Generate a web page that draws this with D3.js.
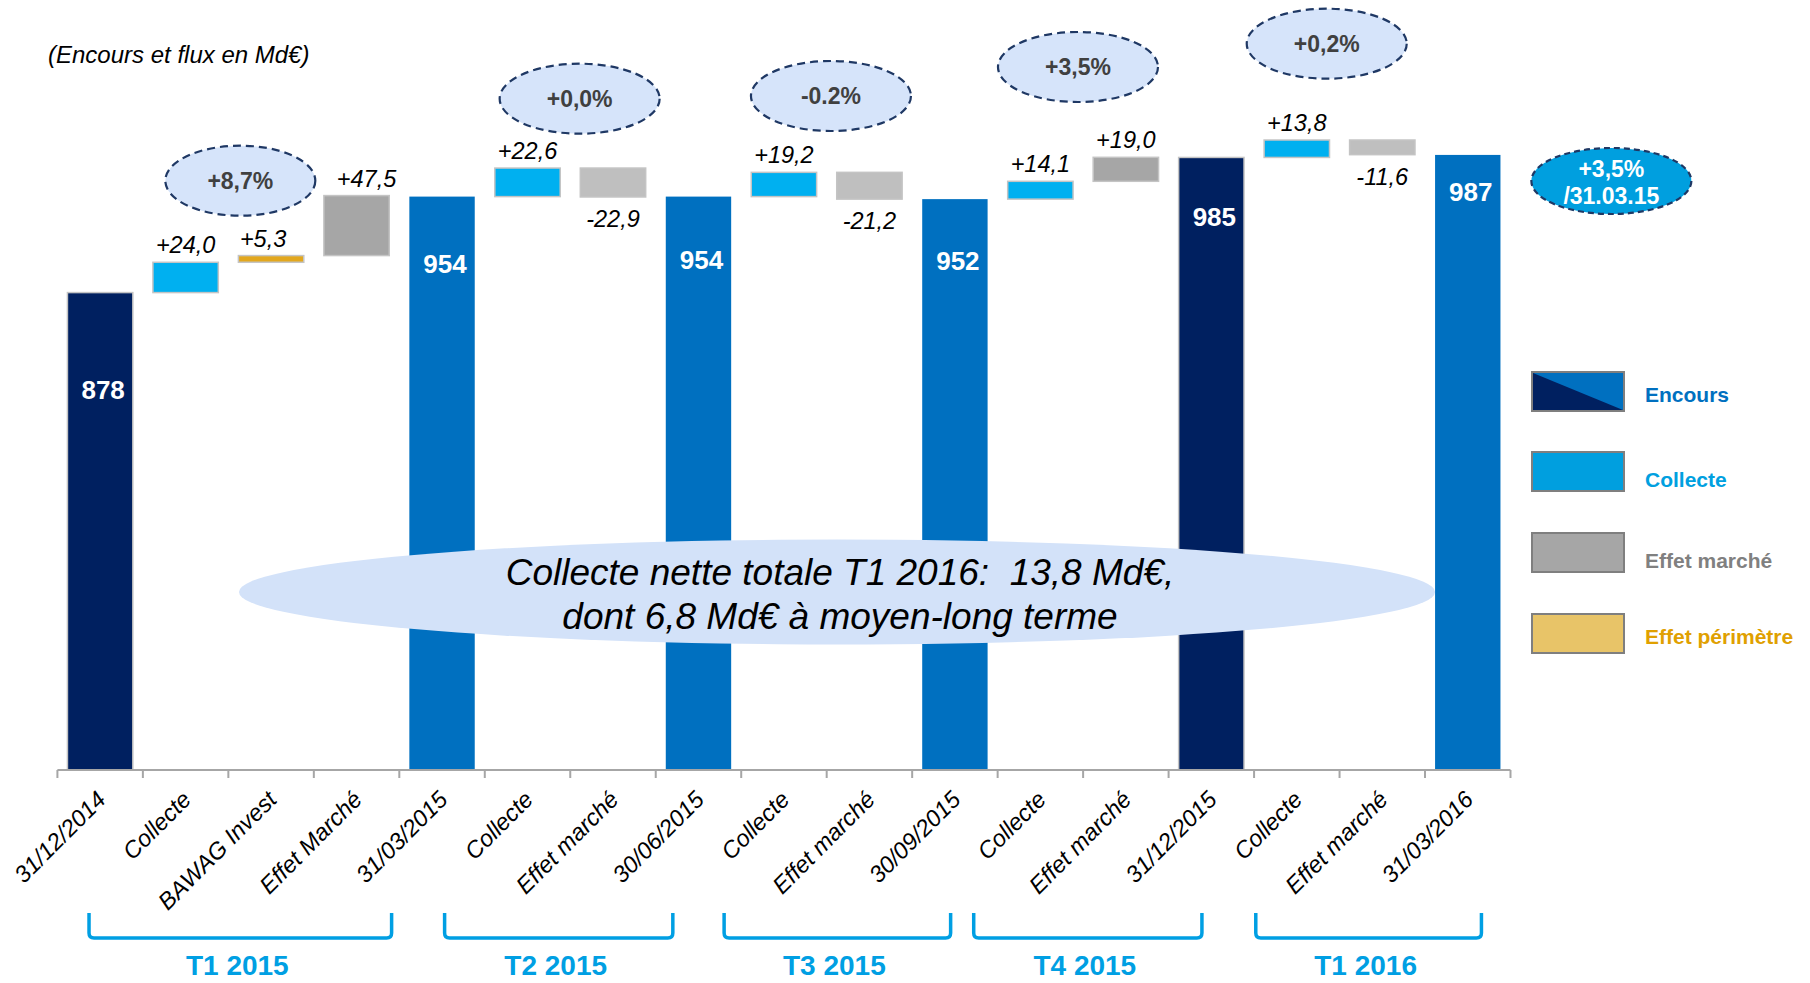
<!DOCTYPE html>
<html>
<head>
<meta charset="utf-8">
<script src="https://cdn.jsdelivr.net/npm/d3@7"></script>
<style>
  html, body { margin: 0; padding: 0; background: #ffffff; }
  svg { display: block; font-family: "Liberation Sans", Arial, sans-serif; }
</style>
</head>
<body>
<svg id="chart" width="1810" height="983"></svg>
<script>
// ---------------- DATA ----------------
const categories = ["31/12/2014", "Collecte", "BAWAG Invest", "Effet Marché", "31/03/2015",
  "Collecte", "Effet marché", "30/06/2015",
  "Collecte", "Effet marché", "30/09/2015",
  "Collecte", "Effet marché", "31/12/2015",
  "Collecte", "Effet marché", "31/03/2016"];
const kinds = ["encours", "collecte", "perimetre", "marche", "encours",
  "collecte", "marche", "encours",
  "collecte", "marche", "encours",
  "collecte", "marche", "encours",
  "collecte", "marche", "encours"];
const values = [878, 24.0, 5.3, 47.5, 954,
  22.6, -22.9, 954,
  19.2, -21.2, 952,
  14.1, 19.0, 985,
  13.8, -11.6, 987];
const darkEncours = ["31/12/2014", "31/12/2015"];
const quarters = ["T1 2015", "T2 2015", "T3 2015", "T4 2015", "T1 2016"];
const quarterGrowth = ["+8,7%", "+0,0%", "-0.2%", "+3,5%", "+0,2%"];
const yearGrowth = ["+3,5%", "/31.03.15"];
const legendLabels = ["Encours", "Collecte", "Effet marché", "Effet périmètre"];
const unitNote = "(Encours et flux en Md€)";
const noteLines = ["Collecte nette totale T1 2016:\u00A0 13,8 Md€,", "dont 6,8 Md€ à moyen-long terme"];
const yDomain = [500, 1000];

// ---------------- LAYOUT / STYLE ----------------
const W = 1810, H = 983;
const axisY = 770, axisX0 = 57.4, axisX1 = 1510.5;
const colors = {
  navy: "#002060", blue: "#0070C0", collecte: "#00B0F0",
  marchePos: "#A6A6A6", marcheNeg: "#BFBFBF", perimetre: "#E2A71E",
  bracket: "#009FE3", bubble: "#D6E4FA", bubbleStroke: "#1F3864",
  note: "#D3E2F9", pctText: "#404040"
};
const totalLabelDy = [97, 67, 63, 62, 60, 37];         // label offset below bar top (px)
const flowLabelDx = [0, -8, 10, 0, 0, 0, 0, 0, 0, 0, 0]; // small horizontal nudges of flow labels
const bracketUnits = [[0.37, 3.91], [4.53, 7.20], [7.80, 10.45], [10.72, 13.39], [14.02, 16.66]];
const bubbleUnits = [[2.14, 180.7, 75], [6.11, 98.7, 80], [9.05, 96, 80], [11.94, 67, 80], [14.85, 43.7, 80]];
const yearBubble = [18.18, 181, 80, 33];
const legendY = [372, 452, 533, 614];
const legendTextY = [394, 479, 560, 636];
const legendColors = ["#0070C0", "#009FDF", "#A6A6A6", "#E8C468"];
const legendTextColors = ["#0070C0", "#00A0E0", "#808080", "#E0A000"];

const fmt = d3.formatLocale({decimal: ",", thousands: " ", grouping: [3], currency: ["", "€"], minus: "-"});
const fmtFlow = fmt.format("+.1f");

const svg = d3.select("#chart");
svg.append("rect").attr("width", W).attr("height", H).attr("fill", "#fff");

const idx = d3.range(categories.length);
const x = d3.scaleBand().domain(idx).range([axisX0, axisX1]).paddingInner(0.235).paddingOuter(0.1175);
const xStep = d3.scaleBand().domain(idx).range([axisX0, axisX1]).padding(0);
const u = d3.scaleLinear().domain([0, categories.length]).range([axisX0, axisX1]);
const y = d3.scaleLinear().domain(yDomain).range([axisY, 138.5]);

// waterfall geometry
let running = 0;
const bars = idx.map(i => {
  const k = kinds[i], v = values[i];
  let lo, hi;
  if (k === "encours") { lo = yDomain[0]; hi = v; running = v; }
  else { lo = running; hi = running + v; running = hi; }
  let fill;
  if (k === "encours") fill = darkEncours.includes(categories[i]) ? colors.navy : colors.blue;
  else if (k === "collecte") fill = colors.collecte;
  else if (k === "perimetre") fill = colors.perimetre;
  else fill = v >= 0 ? colors.marchePos : colors.marcheNeg;
  return {i, k, v, lo: Math.min(lo, hi), hi: Math.max(lo, hi), fill};
});

// unit note
svg.append("text").attr("x", 48).attr("y", 63)
  .attr("font-size", 24).attr("font-style", "italic").attr("fill", "#000")
  .text(unitNote);

// bars
svg.append("g").selectAll("rect").data(bars).join("rect")
  .attr("x", d => x(d.i)).attr("width", x.bandwidth())
  .attr("y", d => y(d.hi)).attr("height", d => y(d.lo) - y(d.hi))
  .attr("fill", d => d.fill)
  .attr("stroke", d => d.fill === colors.blue ? "none" : "#C4C4C4")
  .attr("stroke-width", 1.5);

// axis
const ax = svg.append("g");
ax.append("line").attr("x1", axisX0).attr("x2", axisX1).attr("y1", axisY).attr("y2", axisY)
  .attr("stroke", "#A6A6A6").attr("stroke-width", 2);
ax.selectAll("line.tick").data(d3.range(categories.length + 1)).join("line")
  .attr("class", "tick")
  .attr("x1", d => u(d)).attr("x2", d => u(d))
  .attr("y1", axisY).attr("y2", axisY + 8)
  .attr("stroke", "#A6A6A6").attr("stroke-width", 2);
ax.selectAll("text").data(idx).join("text")
  .attr("transform", i => `translate(${xStep(i) + xStep.bandwidth() / 2 + 7},${axisY + 31}) rotate(-45)`)
  .attr("text-anchor", "end")
  .attr("font-size", 23.5).attr("font-style", "italic").attr("fill", "#000")
  .text(i => categories[i]);

// value labels on flows
const flows = bars.filter(d => d.k !== "encours");
svg.append("g").selectAll("text").data(flows).join("text")
  .attr("x", (d, j) => x(d.i) + x.bandwidth() / 2 + flowLabelDx[j])
  .attr("y", d => d.v >= 0 ? y(d.hi) - 9 : y(d.lo) + 30)
  .attr("text-anchor", "middle")
  .attr("font-size", 23.5).attr("font-style", "italic").attr("fill", "#000")
  .text(d => fmtFlow(d.v));

// encours labels
const totals = bars.filter(d => d.k === "encours");
svg.append("g").selectAll("text").data(totals).join("text")
  .attr("x", d => x(d.i) + x.bandwidth() / 2 + 3)
  .attr("y", (d, j) => y(d.hi) + totalLabelDy[j] + 9)
  .attr("text-anchor", "middle")
  .attr("font-size", 26).attr("font-weight", "bold").attr("fill", "#fff")
  .text(d => d.v);

// quarter growth bubbles
const bub = svg.append("g").selectAll("g").data(quarterGrowth).join("g");
bub.append("ellipse")
  .attr("cx", (d, j) => u(bubbleUnits[j][0])).attr("cy", (d, j) => bubbleUnits[j][1])
  .attr("rx", (d, j) => bubbleUnits[j][2]).attr("ry", 35)
  .attr("fill", colors.bubble).attr("stroke", colors.bubbleStroke)
  .attr("stroke-width", 2.2).attr("stroke-dasharray", "8,5");
bub.append("text")
  .attr("x", (d, j) => u(bubbleUnits[j][0])).attr("y", (d, j) => bubbleUnits[j][1] + 8)
  .attr("text-anchor", "middle").attr("font-size", 23).attr("font-weight", "bold")
  .attr("fill", colors.pctText).text(d => d);

// year growth bubble
svg.append("ellipse").attr("cx", u(yearBubble[0])).attr("cy", yearBubble[1])
  .attr("rx", yearBubble[2]).attr("ry", yearBubble[3])
  .attr("fill", "#009FDF").attr("stroke", colors.bubbleStroke)
  .attr("stroke-width", 2.2).attr("stroke-dasharray", "6,4");
svg.append("g").selectAll("text").data(yearGrowth).join("text")
  .attr("x", u(yearBubble[0])).attr("y", (d, j) => yearBubble[1] - 4 + j * 27)
  .attr("text-anchor", "middle").attr("font-size", 23).attr("font-weight", "bold")
  .attr("fill", "#fff").text(d => d);

// big note ellipse
svg.append("ellipse").attr("cx", 837).attr("cy", 592).attr("rx", 598).attr("ry", 52.5)
  .attr("fill", colors.note);
svg.append("g").selectAll("text").data(noteLines).join("text")
  .attr("x", 840).attr("y", (d, j) => 585 + j * 44)
  .attr("text-anchor", "middle").attr("font-size", 37).attr("font-style", "italic")
  .attr("fill", "#000").text(d => d);

// quarter brackets
const br = svg.append("g").selectAll("g").data(quarters).join("g");
br.append("path")
  .attr("d", (d, j) => {
    const a = u(bracketUnits[j][0]), b = u(bracketUnits[j][1]);
    return `M${a},913 L${a},933 Q${a},938 ${a + 5},938 L${b - 5},938 Q${b},938 ${b},933 L${b},913`;
  })
  .attr("fill", "none").attr("stroke", colors.bracket).attr("stroke-width", 3.5);
br.append("text")
  .attr("x", (d, j) => (u(bracketUnits[j][0]) + u(bracketUnits[j][1])) / 2 - 3)
  .attr("y", 975).attr("text-anchor", "middle")
  .attr("font-size", 28).attr("font-weight", "bold").attr("fill", colors.bracket)
  .text(d => d);

// legend
const lg = svg.append("g").selectAll("g").data(legendLabels).join("g");
lg.append("rect").attr("x", 1532).attr("y", (d, j) => legendY[j]).attr("width", 92).attr("height", 39)
  .attr("fill", (d, j) => legendColors[j]).attr("stroke", "#7F7F7F").attr("stroke-width", 2);
lg.filter((d, j) => j === 0).append("path")
  .attr("d", `M1533,${legendY[0] + 1} L1623,${legendY[0] + 38} L1533,${legendY[0] + 38} Z`)
  .attr("fill", colors.navy);
lg.filter((d, j) => j === 0).append("rect").attr("x", 1532).attr("y", legendY[0])
  .attr("width", 92).attr("height", 39)
  .attr("fill", "none").attr("stroke", "#7F7F7F").attr("stroke-width", 2);
lg.append("text").attr("x", 1645).attr("y", (d, j) => legendTextY[j] + 7.5)
  .attr("font-size", 21).attr("font-weight", "bold")
  .attr("fill", (d, j) => legendTextColors[j]).text(d => d);
</script>
</body>
</html>
